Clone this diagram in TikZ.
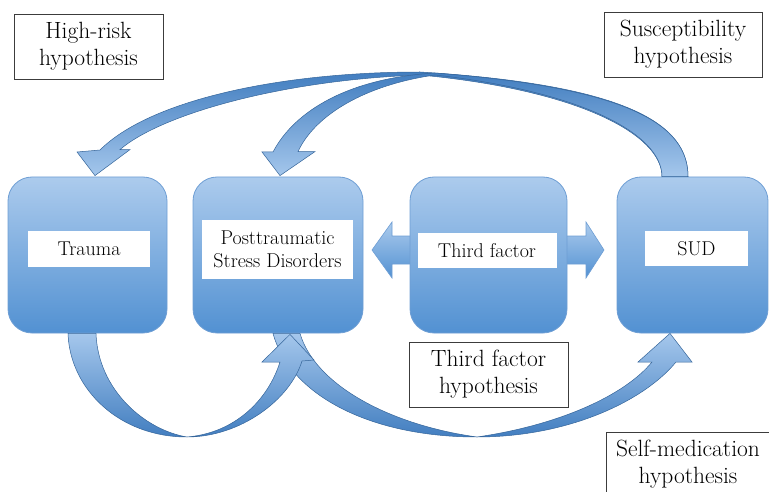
\documentclass[tikz,border=0pt]{standalone}
\usepackage{fontspec}
\usetikzlibrary{calc}

\definecolor{boxtop}{RGB}{172,203,237}
\definecolor{boxbot}{RGB}{82,145,210}
\definecolor{boxline}{RGB}{110,158,212}
\definecolor{arrdark}{RGB}{66,126,192}
\definecolor{arrlight}{RGB}{165,199,236}
\definecolor{hypline}{RGB}{60,60,60}

\tikzset{
  blob/.style={draw=boxline, line width=0.8pt, rounded corners=24pt,
    top color=boxtop, bottom color=boxbot, minimum width=#1,
    minimum height=156pt, inner sep=0pt},
  tag/.style={fill=white, inner sep=0pt, align=center,
    font=\fontsize{20}{23}\selectfont, text=black},
  hyp/.style={draw=hypline, line width=0.8pt, fill=white, inner sep=0pt,
    minimum height=65pt, align=center,
    font=\fontsize{23.5}{27}\selectfont, text=black},
  bandup/.style={draw=arrdark!80!black, line width=0.5pt,
    top color=arrlight, bottom color=arrdark},
  banddown/.style={draw=arrdark!80!black, line width=0.5pt,
    top color=arrdark, bottom color=arrlight}
}

\begin{document}
\begin{tikzpicture}[x=1pt,y=-1pt]
  \useasboundingbox (0,0) rectangle (769,492);
  % double arrow behind the third factor box
  \path[draw=boxline, line width=0.6pt, top color=boxtop, bottom color=boxbot]
    (372,250) -- (392,222) -- (392,236) -- (586,236) -- (586,222) -- (604,250)
    -- (586,278) -- (586,264) -- (392,264) -- (392,278) -- cycle;

  \node[blob=159pt] (trauma) at (87.5,255) {};
  \node[blob=170pt] (ptsd) at (278,255) {};
  \node[blob=157pt] (third) at (488.5,255) {};
  \node[blob=151pt] (sud) at (692.5,255) {};

  \node[tag, minimum width=122pt, minimum height=36pt] (traumatxt) at (89,248.5) {Trauma};
  \node[tag, minimum width=151pt, minimum height=59pt] (ptsdtxt) at (277.5,249.5) {Posttraumatic\\Stress Disorders};
  \node[tag, minimum width=139pt, minimum height=35pt] (thirdtxt) at (487,250.5) {Third factor};
  \node[tag, minimum width=103pt, minimum height=35pt] (sudtxt) at (696.5,248.5) {SUD};

  \coordinate (sudA) at ($(sud.north)+(-30.5,0)$);
  \coordinate (sudB) at ($(sud.north)+(-4.5,0)$);
  \coordinate (traumaTip) at ($(trauma.north)+(7.5,-1)$);
  \coordinate (ptsdTip) at ($(ptsd.north)+(2,-1)$);
  \coordinate (traumaA) at ($(trauma.south)+(-19.5,0)$);
  \coordinate (traumaB) at ($(trauma.south)+(8.5,0)$);
  \coordinate (ptsdHit) at ($(ptsd.south)+(12,1)$);
  \coordinate (ptsdA) at ($(ptsd.south)+(-5,0)$);
  \coordinate (ptsdB) at ($(ptsd.south)+(22,0)$);
  \coordinate (sudHit) at ($(sud.south)+(-22.5,0)$);

  % SUD -> Trauma
  \path[banddown] (traumaTip) -- ++(35,-26) -- ++(-10,0)
    .. controls (160,115) and (280,80) .. (420,75)
    .. controls (580,90) and (662,135) .. (sudA) -- (sudB)
    .. controls (688,125) and (630,85) .. (420,72)
    .. controls (280,72) and (150,100) .. (100,150) -- (77,152) -- cycle;
  % SUD -> PTSD
  \path[banddown] (ptsdTip) -- ++(35,-24) -- ++(-17,0)
    .. controls (315,115) and (365,85) .. (435,75)
    .. controls (585,92) and (662,135) .. (sudA) -- (sudB)
    .. controls (688,125) and (630,88) .. (435,73)
    .. controls (350,78) and (295,110) .. (273,152) -- (262,152) -- cycle;
  % PTSD -> SUD
  \path[bandup] (ptsdA) .. controls (290,395) and (370,437) .. (477,437)
    .. controls (570,437) and (645,400) .. (676,362) -- ++(16,0) -- (sudHit)
    -- (638,362) -- (652,362)
    .. controls (625,395) and (560,425) .. (477,437)
    .. controls (390,425) and (315,385) .. (ptsdB) -- cycle;
  % Trauma -> PTSD
  \path[bandup] (traumaA) .. controls (70,390) and (120,437) .. (187,437)
    .. controls (240,437) and (290,400) .. (302,361) -- (314,360) -- (ptsdHit)
    -- (262,362) -- (280,362)
    .. controls (268,400) and (235,433) .. (187,437)
    .. controls (145,430) and (98,390) .. (traumaB) -- cycle;

  \node[hyp, minimum width=149pt] (highrisk) at (88.5,46.5) {High-risk\\hypothesis};
  \node[hyp, minimum width=158pt] (suscept) at (683,44.5) {Susceptibility\\hypothesis};
  \node[hyp, minimum width=159pt] (thirdhyp) at (488.5,374.5) {Third factor\\hypothesis};
  \node[hyp, minimum width=164pt] (selfmed) at (688,464.5) {Self-medication\\hypothesis};
\end{tikzpicture}
\end{document}
